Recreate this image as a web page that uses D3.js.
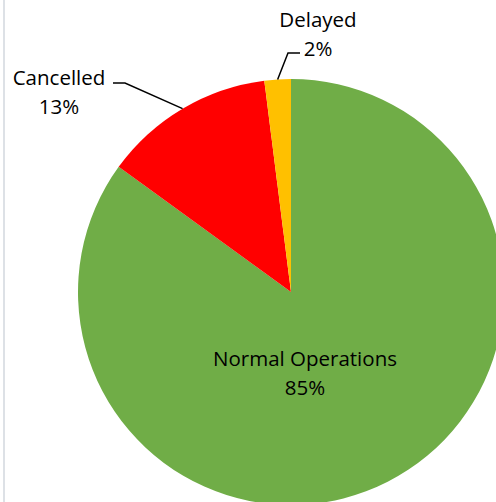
<!DOCTYPE html>
<html>
<head>
<meta charset="utf-8">
<script src="https://cdn.jsdelivr.net/npm/d3@7"></script>
<style>
  html, body { margin: 0; padding: 0; background: #fff; overflow: hidden; }
  svg { display: block; }
</style>
</head>
<body>
<script>
// slice data, clockwise from 12 o'clock
var categories = ["Normal Operations", "Cancelled", "Delayed"];
var values = [85, 13, 2];
var percentLabels = ["85%", "13%", "2%"];
var colors = ["#70AD47", "#FF0000", "#FFC000"];

var width = 496, height = 502;
var cx = 291, cy = 292, radius = 213;

var svg = d3.select("body").append("svg")
    .attr("width", width)
    .attr("height", height);

// thin frame line on the left
svg.append("line")
    .attr("x1", 4).attr("x2", 4)
    .attr("y1", 0).attr("y2", height)
    .attr("stroke", "#dde1e6")
    .attr("stroke-width", 2);

var g = svg.append("g")
    .attr("transform", "translate(" + cx + "," + cy + ")");

var pie = d3.pie().sort(null).value(function(d) { return d; });
var arcs = pie(values);

var arc = d3.arc().innerRadius(0).outerRadius(radius);

g.selectAll("path.slice")
    .data(arcs)
  .enter().append("path")
    .attr("class", "slice")
    .attr("d", arc)
    .attr("fill", function(d, i) { return colors[i]; });

// label placement (offsets from pie centre), elbow for leader lines
var labelPos = [
  {x: 14, y: 74, anchor: "middle", elbow: null},
  {x: -232, y: -207, anchor: "middle", elbow: [[-166, -209], [-178, -209]]},
  {x: 27, y: -265, anchor: "middle", elbow: [[-3, -239], [9, -239]]}
];

var lineH = 29;

arcs.forEach(function(d, i) {
  var p = labelPos[i];
  var t = g.append("text")
      .attr("text-anchor", p.anchor)
      .attr("font-family", "'Open Sans', sans-serif")
      .attr("font-size", "20.5px")
      .attr("fill", "#000");
  t.append("tspan").attr("x", p.x).attr("y", p.y).text(categories[i]);
  t.append("tspan").attr("x", p.x).attr("y", p.y + lineH).text(percentLabels[i]);

  if (p.elbow) {
    var mid = (d.startAngle + d.endAngle) / 2;
    var start = [Math.sin(mid) * radius, -Math.cos(mid) * radius];
    var pts = [start].concat(p.elbow);
    g.append("path")
        .attr("d", d3.line()(pts))
        .attr("fill", "none")
        .attr("stroke", "#000")
        .attr("stroke-width", 1.5);
  }
});
</script>
</body>
</html>
